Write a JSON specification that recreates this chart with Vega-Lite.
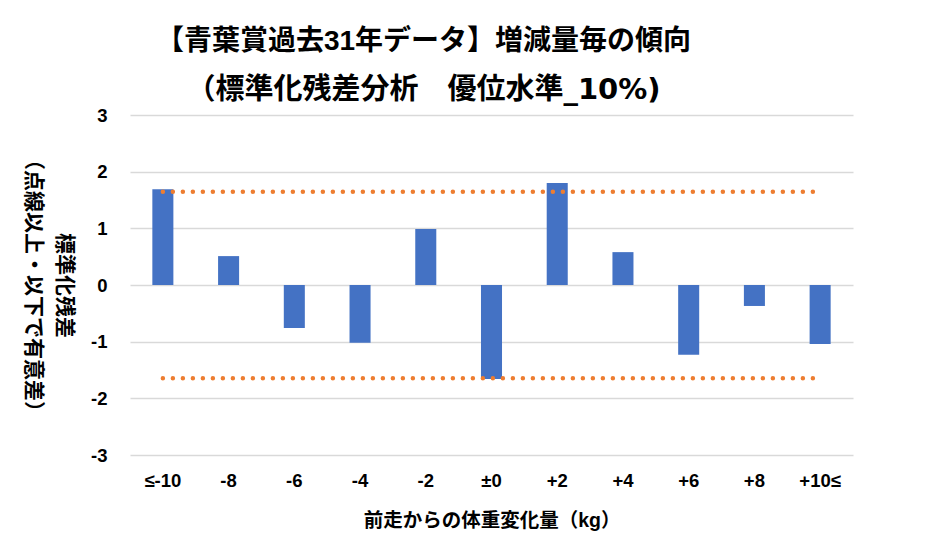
{
  "$schema": "https://vega.github.io/schema/vega-lite/v6.json",
  "width": 723,
  "height": 340,
  "autosize": {"type": "none"},
  "padding": {"left": 130, "top": 115, "right": 95, "bottom": 87},
  "background": "white",
  "title": {
    "text": "【青葉賞過去31年データ】増減量毎の傾向",
    "subtitle": "（標準化残差分析　優位水準_10%)",
    "font": "Liberation Sans, Noto Sans CJK JP",
    "fontSize": 28,
    "fontWeight": "bold",
    "color": "#000000",
    "subtitleFont": "DejaVu Sans, Noto Sans CJK JP",
    "subtitleFontSize": 29,
    "subtitleFontWeight": "bold",
    "subtitleColor": "#000000",
    "subtitlePadding": 20,
    "anchor": "middle",
    "dx": -68,
    "offset": 1
  },
  "data": {
    "values": [
      {"cat": "≤-10", "resid": 1.69, "upper": 1.645, "lower": -1.645},
      {"cat": "-8", "resid": 0.51, "upper": 1.645, "lower": -1.645},
      {"cat": "-6", "resid": -0.76, "upper": 1.645, "lower": -1.645},
      {"cat": "-4", "resid": -1.02, "upper": 1.645, "lower": -1.645},
      {"cat": "-2", "resid": 0.99, "upper": 1.645, "lower": -1.645},
      {"cat": "±0", "resid": -1.66, "upper": 1.645, "lower": -1.645},
      {"cat": "+2", "resid": 1.80, "upper": 1.645, "lower": -1.645},
      {"cat": "+4", "resid": 0.58, "upper": 1.645, "lower": -1.645},
      {"cat": "+6", "resid": -1.23, "upper": 1.645, "lower": -1.645},
      {"cat": "+8", "resid": -0.37, "upper": 1.645, "lower": -1.645},
      {"cat": "+10≤", "resid": -1.04, "upper": 1.645, "lower": -1.645}
    ]
  },
  "encoding": {
    "x": {
      "field": "cat",
      "type": "nominal",
      "sort": null,
      "scale": {"paddingInner": 0.68, "paddingOuter": 0.34},
      "axis": {
        "title": "前走からの体重変化量（kg）",
        "labelAngle": 0,
        "labelFontSize": 18.5,
        "labelPadding": 16,
        "domain": false,
        "ticks": false,
        "titleFontSize": 19.5,
        "titlePadding": 22
      }
    }
  },
  "layer": [
    {
      "mark": {"type": "bar", "color": "#4472C4"},
      "encoding": {
        "y": {
          "field": "resid",
          "type": "quantitative",
          "scale": {"domain": [-3, 3], "nice": false},
          "axis": {
            "values": [-3, -2, -1, 0, 1, 2, 3],
            "labelExpr": "'' + datum.value",
            "title": ["標準化残差", "（点線以上・以下で有意差）"],
            "titleAngle": 90,
            "titleX": -67,
            "titleY": 170,
            "titleAlign": "center",
            "titleBaseline": "middle",
            "titleLineHeight": 31,
            "titleFontSize": 21,
            "labelFontSize": 18.5,
            "labelPadding": 23,
            "domain": false,
            "ticks": false,
            "grid": true
          }
        }
      }
    },
    {
      "mark": {"type": "line", "color": "#ED7D31", "strokeWidth": 4.5, "strokeDash": [0, 10], "strokeCap": "round"},
      "encoding": {"y": {"field": "upper", "type": "quantitative"}}
    },
    {
      "mark": {"type": "line", "color": "#ED7D31", "strokeWidth": 4.5, "strokeDash": [0, 10], "strokeCap": "round"},
      "encoding": {"y": {"field": "lower", "type": "quantitative"}}
    }
  ],
  "config": {
    "font": "Liberation Sans, Noto Sans CJK JP",
    "view": {"stroke": null},
    "axis": {
      "labelFont": "Liberation Sans, Noto Sans CJK JP",
      "titleFont": "Liberation Sans, Noto Sans CJK JP",
      "labelColor": "#000000",
      "titleColor": "#000000",
      "labelFontWeight": "bold",
      "titleFontWeight": "bold",
      "gridColor": "#d9d9d9",
      "gridWidth": 1.5
    }
  }
}
